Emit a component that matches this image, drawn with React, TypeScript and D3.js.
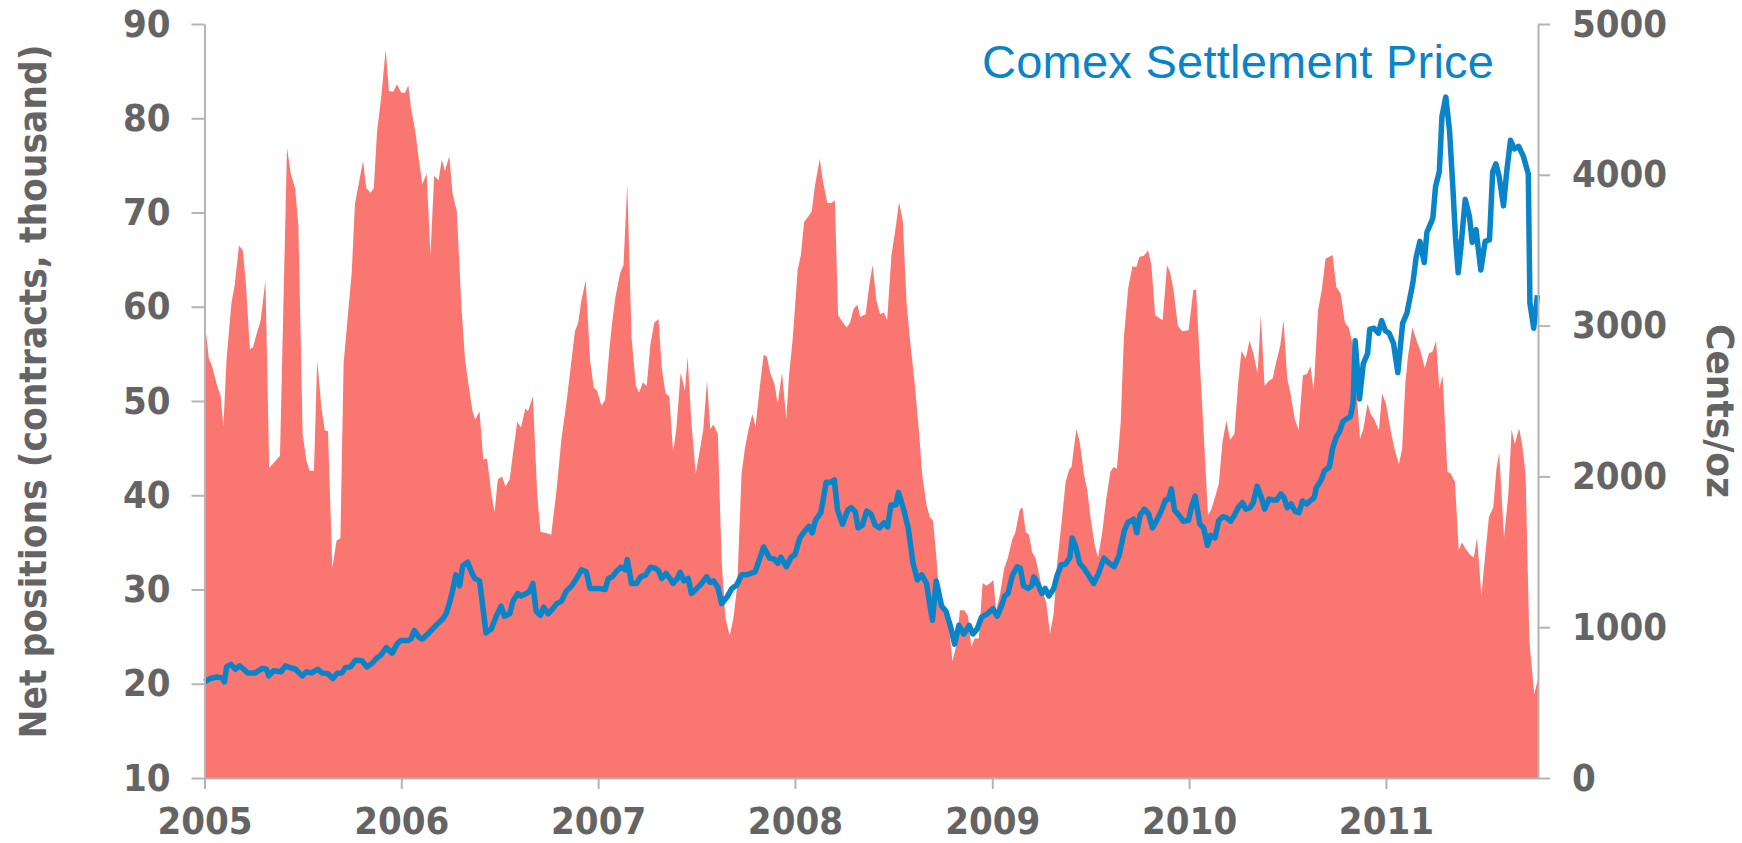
import { useEffect, useRef } from 'react'
import * as d3 from 'd3'

type Pt = [string, number]

// Net long positions, thousand contracts (left axis)
const netPositions: Pt[] = [
  ['2005-01-01', 58.6], ['2005-01-09', 54.5], ['2005-01-15', 53.7], ['2005-01-23', 51.9], ['2005-01-31', 50.5],
  ['2005-02-05', 47.3], ['2005-02-11', 54.5], ['2005-02-20', 60.4], ['2005-02-26', 62.3], ['2005-03-06', 66.5],
  ['2005-03-13', 66], ['2005-03-19', 62.3], ['2005-03-26', 55.5], ['2005-04-01', 55.7], ['2005-04-08', 57.2],
  ['2005-04-15', 58.5], ['2005-04-24', 62.8], ['2005-05-01', 42.9], ['2005-05-21', 44.2], ['2005-06-03', 76.9],
  ['2005-06-10', 74.1], ['2005-06-18', 72.6], ['2005-06-24', 68.7], ['2005-07-02', 46.5], ['2005-07-09', 43.7],
  ['2005-07-15', 42.6], ['2005-07-23', 42.6], ['2005-07-29', 54.3], ['2005-08-06', 49.2], ['2005-08-12', 46.9],
  ['2005-08-18', 46.8], ['2005-08-26', 32.3], ['2005-09-03', 35.2], ['2005-09-10', 35.4], ['2005-09-16', 54],
  ['2005-09-26', 60.4], ['2005-10-01', 63.6], ['2005-10-07', 70.9], ['2005-10-22', 75.5], ['2005-10-28', 72.6],
  ['2005-11-05', 72.1], ['2005-11-11', 72.6], ['2005-11-17', 78.6], ['2005-11-25', 82.4], ['2005-12-03', 87.3],
  ['2005-12-09', 82.9], ['2005-12-17', 82.8], ['2005-12-24', 83.6], ['2006-01-01', 82.7], ['2006-01-08', 82.7],
  ['2006-01-14', 83.5], ['2006-01-19', 81.1], ['2006-01-27', 78.6], ['2006-02-03', 75.4], ['2006-02-09', 73],
  ['2006-02-17', 74.1], ['2006-02-24', 65.5], ['2006-03-03', 73.9], ['2006-03-11', 73.4], ['2006-03-17', 75.6],
  ['2006-03-23', 74.4], ['2006-03-31', 76], ['2006-04-06', 72], ['2006-04-14', 70.1], ['2006-04-22', 60.4],
  ['2006-04-29', 54.5], ['2006-05-06', 51.6], ['2006-05-13', 48.9], ['2006-05-18', 48], ['2006-05-26', 48.9],
  ['2006-06-02', 43.8], ['2006-06-09', 43.9], ['2006-06-17', 40.1], ['2006-06-23', 38.2], ['2006-06-29', 41.7],
  ['2006-07-07', 42], ['2006-07-13', 40.9], ['2006-07-21', 41.7], ['2006-07-27', 44.4], ['2006-08-04', 47.8],
  ['2006-08-11', 47.2], ['2006-08-19', 49.2], ['2006-08-24', 48.9], ['2006-09-02', 50.5], ['2006-09-10', 40.1],
  ['2006-09-16', 36.1], ['2006-09-27', 36], ['2006-10-06', 35.8], ['2006-10-16', 40.6], ['2006-10-25', 46],
  ['2006-11-03', 49.7], ['2006-11-13', 54.5], ['2006-11-19', 57.4], ['2006-11-25', 58.3], ['2006-12-01', 60.7],
  ['2006-12-09', 62.8], ['2006-12-17', 54.3], ['2006-12-24', 51.4], ['2006-12-30', 51.1], ['2007-01-07', 49.5],
  ['2007-01-14', 50.1], ['2007-01-22', 55.6], ['2007-01-27', 58.3], ['2007-02-02', 61], ['2007-02-11', 63.6],
  ['2007-02-17', 64.4], ['2007-02-24', 73], ['2007-03-04', 56.7], ['2007-03-12', 51.6], ['2007-03-18', 50.9],
  ['2007-03-25', 52], ['2007-04-01', 51.6], ['2007-04-08', 56], ['2007-04-15', 58.3], ['2007-04-23', 58.7],
  ['2007-04-29', 53.5], ['2007-05-06', 50.8], ['2007-05-13', 50.5], ['2007-05-20', 44.6], ['2007-05-26', 47],
  ['2007-06-03', 53], ['2007-06-11', 51.1], ['2007-06-16', 54.7], ['2007-06-23', 47.6], ['2007-07-01', 42.3],
  ['2007-07-09', 44.9], ['2007-07-15', 47], ['2007-07-22', 52.2], ['2007-07-28', 47], ['2007-08-03', 47.5],
  ['2007-08-11', 46.5], ['2007-08-18', 33.1], ['2007-08-25', 27], ['2007-09-02', 25.1], ['2007-09-09', 27],
  ['2007-09-16', 30.4], ['2007-09-24', 42.3], ['2007-09-30', 44.9], ['2007-10-07', 47], ['2007-10-14', 48.6],
  ['2007-10-20', 47.3], ['2007-10-27', 51.1], ['2007-11-04', 54.9], ['2007-11-10', 54.7], ['2007-11-16', 53],
  ['2007-11-24', 51.8], ['2007-11-30', 49.7], ['2007-12-08', 53], ['2007-12-16', 48.1], ['2007-12-21', 52.7],
  ['2007-12-28', 56.7], ['2008-01-06', 63.9], ['2008-01-12', 65.5], ['2008-01-18', 69], ['2008-01-26', 69.6],
  ['2008-02-01', 70.1], ['2008-02-07', 72.8], ['2008-02-16', 75.7], ['2008-02-22', 73.3], ['2008-03-01', 71],
  ['2008-03-09', 71], ['2008-03-15', 71.3], ['2008-03-21', 59.1], ['2008-03-29', 58.4], ['2008-04-06', 57.8],
  ['2008-04-12', 58.3], ['2008-04-19', 59.8], ['2008-04-26', 60.2], ['2008-05-01', 58.9], ['2008-05-11', 59.2],
  ['2008-05-18', 62.3], ['2008-05-24', 64.4], ['2008-05-31', 60.7], ['2008-06-07', 59.2], ['2008-06-14', 59.4],
  ['2008-06-20', 58.6], ['2008-06-28', 65.5], ['2008-07-06', 68.5], ['2008-07-12', 71.1], ['2008-07-19', 69.1],
  ['2008-07-26', 60.4], ['2008-08-02', 56.1], ['2008-08-10', 51.9], ['2008-08-18', 46.8], ['2008-08-24', 42.2],
  ['2008-09-01', 39], ['2008-09-07', 37.7], ['2008-09-13', 37.3], ['2008-09-19', 33.7], ['2008-09-25', 29.1],
  ['2008-10-03', 28.3], ['2008-10-11', 27], ['2008-10-19', 22.4], ['2008-10-26', 24], ['2008-11-02', 27.8],
  ['2008-11-10', 27.8], ['2008-11-17', 27.2], ['2008-11-23', 23.9], ['2008-11-29', 24.8], ['2008-12-07', 24.8],
  ['2008-12-14', 30.7], ['2008-12-21', 30.4], ['2008-12-28', 30.7], ['2009-01-03', 31], ['2009-01-08', 27.8],
  ['2009-01-15', 29.4], ['2009-01-23', 32.2], ['2009-01-30', 33.4], ['2009-02-07', 35.3], ['2009-02-13', 36.1],
  ['2009-02-21', 38.5], ['2009-02-26', 38.7], ['2009-03-04', 36.1], ['2009-03-10', 35.8], ['2009-03-16', 33.9],
  ['2009-03-22', 33.4], ['2009-03-29', 31.5], ['2009-04-04', 29.9], ['2009-04-11', 28.6], ['2009-04-18', 25.3],
  ['2009-04-25', 27.5], ['2009-05-01', 32.6], ['2009-05-08', 36.3], ['2009-05-17', 41.4], ['2009-05-24', 42.8],
  ['2009-05-28', 43], ['2009-06-01', 44.9], ['2009-06-06', 47], ['2009-06-12', 45.7], ['2009-06-20', 42.2],
  ['2009-06-26', 40.6], ['2009-07-02', 37.7], ['2009-07-10', 34.7], ['2009-07-16', 33.4], ['2009-07-24', 36.1],
  ['2009-07-31', 39.5], ['2009-08-08', 42.5], ['2009-08-14', 43], ['2009-08-20', 42.8], ['2009-08-27', 47.6],
  ['2009-09-02', 56.7], ['2009-09-10', 62], ['2009-09-18', 64.3], ['2009-09-25', 64.2], ['2009-10-01', 65.3],
  ['2009-10-09', 65.4], ['2009-10-17', 66], ['2009-10-23', 64.4], ['2009-10-30', 59.1], ['2009-11-09', 58.7],
  ['2009-11-13', 58.6], ['2009-11-21', 64.4], ['2009-11-27', 63.6], ['2009-12-03', 61.8], ['2009-12-11', 58],
  ['2009-12-19', 57.4], ['2009-12-31', 57.5], ['2010-01-09', 61.8], ['2010-01-14', 61.8], ['2010-01-22', 52.9],
  ['2010-01-30', 44.4], ['2010-02-05', 37.9], ['2010-02-11', 38.5], ['2010-02-18', 39.8], ['2010-02-25', 41.2],
  ['2010-03-04', 45.7], ['2010-03-11', 47.9], ['2010-03-18', 45.9], ['2010-03-26', 46.5], ['2010-04-02', 51.9],
  ['2010-04-08', 55.3], ['2010-04-16', 54.5], ['2010-04-23', 56.4], ['2010-04-30', 55.1], ['2010-05-08', 52.9],
  ['2010-05-14', 59.1], ['2010-05-21', 51.6], ['2010-05-28', 52.1], ['2010-06-05', 52.4], ['2010-06-11', 54],
  ['2010-06-19', 55.9], ['2010-06-25', 58.6], ['2010-07-02', 52.4], ['2010-07-08', 50.8], ['2010-07-16', 48.1],
  ['2010-07-23', 46.9], ['2010-07-31', 52.7], ['2010-08-08', 52.9], ['2010-08-14', 53.7], ['2010-08-20', 51.1],
  ['2010-08-28', 59.6], ['2010-09-04', 61.8], ['2010-09-11', 65.1], ['2010-09-24', 65.5], ['2010-10-01', 62.1],
  ['2010-10-09', 61.4], ['2010-10-17', 58.3], ['2010-10-24', 57.8], ['2010-10-31', 56.1], ['2010-11-06', 52.1],
  ['2010-11-14', 46], ['2010-11-20', 47], ['2010-11-28', 49.7], ['2010-12-04', 48.6], ['2010-12-10', 48.1],
  ['2010-12-19', 46.9], ['2010-12-25', 50.8], ['2011-01-01', 49.7], ['2011-01-11', 46.5], ['2011-01-17', 44.9],
  ['2011-01-25', 43.3], ['2011-01-31', 44.9], ['2011-02-06', 51.9], ['2011-02-11', 54.8], ['2011-02-19', 57.8],
  ['2011-02-27', 56.4], ['2011-03-06', 55.3], ['2011-03-14', 53.5], ['2011-03-22', 55.1], ['2011-03-28', 55.2],
  ['2011-04-04', 56.4], ['2011-04-10', 51.3], ['2011-04-16', 52.7], ['2011-04-25', 42.5], ['2011-05-01', 42.3],
  ['2011-05-09', 41.4], ['2011-05-16', 34.2], ['2011-05-22', 35], ['2011-05-29', 34.3], ['2011-06-06', 33.7],
  ['2011-06-13', 33.4], ['2011-06-19', 35.5], ['2011-06-27', 29.4], ['2011-07-05', 34.2], ['2011-07-11', 37.7],
  ['2011-07-19', 38.7], ['2011-07-25', 42.8], ['2011-07-30', 44.5], ['2011-08-08', 35.5], ['2011-08-16', 40.1],
  ['2011-08-22', 47], ['2011-08-28', 45.4], ['2011-09-05', 47.1], ['2011-09-11', 45.2], ['2011-09-17', 42.2],
  ['2011-09-24', 24.5], ['2011-10-03', 18.9], ['2011-10-10', 20.5],
]

// Comex settlement price, cents/oz (right axis)
const comexPrice: Pt[] = [
  ['2005-01-01', 637], ['2005-01-12', 660], ['2005-01-24', 670], ['2005-02-03', 664], ['2005-02-07', 637],
  ['2005-02-11', 737], ['2005-02-19', 754], ['2005-02-27', 721], ['2005-03-07', 744], ['2005-03-15', 721],
  ['2005-03-22', 697], ['2005-04-05', 697], ['2005-04-18', 727], ['2005-04-26', 721], ['2005-04-30', 677],
  ['2005-05-09', 711], ['2005-05-23', 704], ['2005-05-31', 744], ['2005-06-09', 731], ['2005-06-19', 721],
  ['2005-07-01', 677], ['2005-07-09', 704], ['2005-07-19', 697], ['2005-07-30', 721], ['2005-08-07', 697],
  ['2005-08-18', 691], ['2005-08-27', 660], ['2005-09-04', 694], ['2005-09-13', 697], ['2005-09-19', 731],
  ['2005-09-29', 737], ['2005-10-08', 781], ['2005-10-20', 778], ['2005-10-29', 737], ['2005-11-08', 761],
  ['2005-11-16', 794], ['2005-11-24', 815], ['2005-12-04', 865], ['2005-12-15', 828], ['2005-12-24', 888],
  ['2005-12-31', 912], ['2006-01-14', 912], ['2006-01-19', 922], ['2006-01-25', 979], ['2006-02-03', 932],
  ['2006-02-09', 922], ['2006-02-19', 955], ['2006-02-28', 989], ['2006-03-09', 1022], ['2006-03-19', 1056],
  ['2006-03-25', 1089], ['2006-03-31', 1156], ['2006-04-06', 1240], ['2006-04-12', 1347], ['2006-04-19', 1274],
  ['2006-04-25', 1408], ['2006-05-04', 1431], ['2006-05-10', 1374], ['2006-05-17', 1324], ['2006-05-26', 1307],
  ['2006-06-01', 1140], ['2006-06-07', 962], ['2006-06-17', 989], ['2006-06-26', 1073], ['2006-07-05', 1140],
  ['2006-07-11', 1073], ['2006-07-21', 1089], ['2006-07-27', 1173], ['2006-08-05', 1223], ['2006-08-11', 1207],
  ['2006-08-21', 1223], ['2006-08-27', 1240], ['2006-09-02', 1290], ['2006-09-08', 1106], ['2006-09-16', 1079],
  ['2006-09-22', 1133], ['2006-09-30', 1089], ['2006-10-09', 1123], ['2006-10-16', 1156], ['2006-10-25', 1173],
  ['2006-11-03', 1240], ['2006-11-13', 1274], ['2006-11-22', 1324], ['2006-12-01', 1381], ['2006-12-10', 1367],
  ['2006-12-17', 1257], ['2006-12-26', 1257], ['2007-01-04', 1257], ['2007-01-14', 1250], ['2007-01-20', 1324],
  ['2007-01-27', 1334], ['2007-02-05', 1374], ['2007-02-12', 1398], ['2007-02-20', 1381], ['2007-02-24', 1448],
  ['2007-03-04', 1290], ['2007-03-13', 1290], ['2007-03-21', 1334], ['2007-03-30', 1347], ['2007-04-08', 1398],
  ['2007-04-17', 1391], ['2007-04-23', 1374], ['2007-04-29', 1324], ['2007-05-07', 1357], ['2007-05-14', 1324],
  ['2007-05-20', 1290], ['2007-05-28', 1324], ['2007-06-02', 1364], ['2007-06-09', 1307], ['2007-06-17', 1324],
  ['2007-06-23', 1223], ['2007-07-03', 1257], ['2007-07-12', 1290], ['2007-07-21', 1334], ['2007-07-28', 1297],
  ['2007-08-03', 1307], ['2007-08-11', 1264], ['2007-08-18', 1156], ['2007-08-28', 1200], ['2007-09-06', 1257],
  ['2007-09-15', 1280], ['2007-09-24', 1347], ['2007-10-03', 1347], ['2007-10-19', 1367], ['2007-10-28', 1458],
  ['2007-11-04', 1532], ['2007-11-15', 1458], ['2007-11-24', 1451], ['2007-11-30', 1424], ['2007-12-06', 1465],
  ['2007-12-16', 1401], ['2007-12-25', 1465], ['2008-01-01', 1481], ['2008-01-10', 1592], ['2008-01-18', 1632],
  ['2008-01-27', 1669], ['2008-02-02', 1626], ['2008-02-08', 1709], ['2008-02-18', 1760], ['2008-02-28', 1961],
  ['2008-03-08', 1961], ['2008-03-14', 1977], ['2008-03-20', 1776], ['2008-03-29', 1683], ['2008-04-08', 1776],
  ['2008-04-14', 1793], ['2008-04-22', 1766], ['2008-04-27', 1659], ['2008-05-05', 1676], ['2008-05-13', 1770],
  ['2008-05-21', 1750], ['2008-05-29', 1676], ['2008-06-06', 1659], ['2008-06-14', 1693], ['2008-06-21', 1666],
  ['2008-06-27', 1810], ['2008-07-06', 1810], ['2008-07-11', 1894], ['2008-07-21', 1776], ['2008-07-29', 1659],
  ['2008-08-07', 1425], ['2008-08-15', 1314], ['2008-08-23', 1347], ['2008-09-01', 1290], ['2008-09-06', 1173],
  ['2008-09-12', 1046], ['2008-09-19', 1307], ['2008-09-29', 1140], ['2008-10-07', 1106], ['2008-10-16', 999],
  ['2008-10-23', 888], ['2008-10-31', 1012], ['2008-11-09', 955], ['2008-11-19', 1012], ['2008-11-26', 955],
  ['2008-12-04', 989], ['2008-12-12', 1066], ['2008-12-23', 1089], ['2009-01-02', 1123], ['2009-01-10', 1073],
  ['2009-01-18', 1140], ['2009-01-24', 1207], ['2009-01-30', 1223], ['2009-02-07', 1341], ['2009-02-16', 1401],
  ['2009-02-22', 1391], ['2009-02-28', 1274], ['2009-03-08', 1257], ['2009-03-15', 1274], ['2009-03-19', 1334],
  ['2009-03-28', 1274], ['2009-04-03', 1223], ['2009-04-09', 1257], ['2009-04-16', 1207], ['2009-04-25', 1257],
  ['2009-05-01', 1341], ['2009-05-09', 1414], ['2009-05-17', 1418], ['2009-05-25', 1465], ['2009-05-29', 1592],
  ['2009-06-04', 1542], ['2009-06-12', 1424], ['2009-06-20', 1391], ['2009-06-29', 1341], ['2009-07-08', 1290],
  ['2009-07-17', 1357], ['2009-07-27', 1458], ['2009-08-06', 1424], ['2009-08-15', 1401], ['2009-08-24', 1475],
  ['2009-09-03', 1642], ['2009-09-09', 1693], ['2009-09-20', 1716], ['2009-09-26', 1626], ['2009-10-02', 1743],
  ['2009-10-10', 1783], ['2009-10-18', 1750], ['2009-10-25', 1659], ['2009-11-02', 1709], ['2009-11-11', 1776],
  ['2009-11-18', 1843], ['2009-11-24', 1850], ['2009-11-29', 1917], ['2009-12-05', 1776], ['2009-12-13', 1743],
  ['2009-12-21', 1703], ['2009-12-31', 1709], ['2010-01-05', 1793], ['2010-01-12', 1870], ['2010-01-21', 1683],
  ['2010-01-28', 1659], ['2010-02-04', 1542], ['2010-02-10', 1609], ['2010-02-18', 1592], ['2010-02-25', 1709],
  ['2010-03-05', 1733], ['2010-03-11', 1726], ['2010-03-19', 1703], ['2010-03-26', 1743], ['2010-04-02', 1793],
  ['2010-04-10', 1827], ['2010-04-16', 1783], ['2010-04-24', 1793], ['2010-04-30', 1827], ['2010-05-07', 1934],
  ['2010-05-15', 1860], ['2010-05-21', 1783], ['2010-05-29', 1850], ['2010-06-06', 1843], ['2010-06-12', 1843],
  ['2010-06-20', 1884], ['2010-06-26', 1860], ['2010-07-02', 1793], ['2010-07-09', 1817], ['2010-07-17', 1766],
  ['2010-07-24', 1760], ['2010-07-30', 1837], ['2010-08-07', 1817], ['2010-08-15', 1843], ['2010-08-21', 1860],
  ['2010-08-25', 1927], ['2010-09-03', 1977], ['2010-09-09', 2038], ['2010-09-18', 2061], ['2010-09-24', 2185],
  ['2010-10-01', 2262], ['2010-10-07', 2296], ['2010-10-13', 2363], ['2010-10-19', 2380], ['2010-10-27', 2396],
  ['2010-11-01', 2480], ['2010-11-05', 2899], ['2010-11-13', 2514], ['2010-11-20', 2748], ['2010-11-28', 2815],
  ['2010-12-02', 2976], ['2010-12-10', 2983], ['2010-12-18', 2949], ['2010-12-24', 3033], ['2010-12-31', 2966],
  ['2011-01-07', 2949], ['2011-01-15', 2882], ['2011-01-23', 2688], ['2011-02-01', 3016], ['2011-02-09', 3083],
  ['2011-02-20', 3284], ['2011-02-26', 3452], ['2011-03-05', 3559], ['2011-03-13', 3418], ['2011-03-18', 3619],
  ['2011-03-26', 3686], ['2011-03-29', 3713], ['2011-04-03', 3921], ['2011-04-10', 4022], ['2011-04-15', 4390],
  ['2011-04-22', 4515], ['2011-04-29', 4290], ['2011-05-05', 3921], ['2011-05-10', 3586], ['2011-05-15', 3351],
  ['2011-05-20', 3519], ['2011-05-28', 3837], ['2011-06-05', 3720], ['2011-06-10', 3552], ['2011-06-17', 3636],
  ['2011-06-26', 3368], ['2011-07-04', 3559], ['2011-07-12', 3569], ['2011-07-18', 4022], ['2011-07-24', 4072],
  ['2011-07-30', 3988], ['2011-08-07', 3794], ['2011-08-13', 4022], ['2011-08-20', 4229], ['2011-08-27', 4172],
  ['2011-09-04', 4189], ['2011-09-13', 4122], ['2011-09-22', 4005], ['2011-09-25', 3150], ['2011-10-02', 2983],
  ['2011-10-09', 3201],
]

const yearTicks = [2005, 2006, 2007, 2008, 2009, 2010, 2011]
const leftTicks = [10, 20, 30, 40, 50, 60, 70, 80, 90]
const rightTicks = [0, 1000, 2000, 3000, 4000, 5000]

const W = 1742
const H = 843
const AREA = '#FA7670'
const BLUE = '#0A84C8'
const AXIS = '#B4B4B4'
const LABEL = '#646464'
const BOLD_FONT = "'DejaVu Sans Condensed', 'DejaVu Sans', sans-serif"

export default function App() {
  const svgRef = useRef<SVGSVGElement>(null)

  useEffect(() => {
    if (!svgRef.current) return
    const parse = d3.timeParse('%Y-%m-%d')
    const pos = netPositions.map(([d, v]) => ({ date: parse(d)!, v }))
    const px = comexPrice.map(([d, v]) => ({ date: parse(d)!, v }))

    const margin = { left: 204.5, right: W - 1538, top: 24, bottom: H - 778 }
    const x = d3.scaleTime()
      .domain([new Date(2005, 0, 1), new Date(2011, 9, 10)])
      .range([margin.left, W - margin.right])
    const yL = d3.scaleLinear().domain([10, 90]).range([H - margin.bottom, margin.top])
    const yR = d3.scaleLinear().domain([0, 5000]).range([H - margin.bottom, margin.top])

    const svg = d3.select(svgRef.current)
    svg.selectAll('*').remove()

    // Net positions area
    svg.append('path')
      .datum(pos)
      .attr('fill', AREA)
      .attr('d', d3.area<{ date: Date; v: number }>()
        .x(d => x(d.date))
        .y0(yL(10))
        .y1(d => yL(d.v)))

    // Price line
    svg.append('path')
      .datum(px)
      .attr('fill', 'none')
      .attr('stroke', BLUE)
      .attr('stroke-width', 5.5)
      .attr('stroke-linejoin', 'round')
      .attr('d', d3.line<{ date: Date; v: number }>()
        .x(d => x(d.date))
        .y(d => yR(d.v)))

    const styleAxis = (g: d3.Selection<SVGGElement, unknown, null, undefined>) => {
      g.select('.domain').attr('stroke', AXIS).attr('stroke-width', 2)
      g.selectAll('.tick line').attr('stroke', AXIS).attr('stroke-width', 2)
      g.selectAll('.tick text')
        .attr('fill', LABEL)
        .attr('font-family', BOLD_FONT)
        .attr('font-stretch', 'condensed')
        .attr('font-weight', 'bold')
        .attr('font-size', 38)
    }

    // Left axis
    svg.append('g')
      .attr('transform', `translate(${margin.left},0)`)
      .call(d3.axisLeft(yL).tickValues(leftTicks).tickSize(13).tickPadding(21).tickSizeOuter(0))
      .call(styleAxis)

    // Right axis
    svg.append('g')
      .attr('transform', `translate(${W - margin.right},0)`)
      .call(d3.axisRight(yR).tickValues(rightTicks).tickFormat(d3.format('d')).tickSize(12).tickPadding(22).tickSizeOuter(0))
      .call(styleAxis)

    // Bottom axis
    svg.append('g')
      .attr('transform', `translate(0,${H - margin.bottom})`)
      .call(d3.axisBottom(x)
        .tickValues(yearTicks.map(y => new Date(y, 0, 1)))
        .tickFormat(d => d3.timeFormat('%Y')(d as Date))
        .tickSize(11).tickPadding(18).tickSizeOuter(0))
      .call(styleAxis)

    // Axis titles
    svg.append('text')
      .attr('transform', `translate(33,${(44 + 739) / 2}) rotate(-90)`)
      .attr('text-anchor', 'middle')
      .attr('dominant-baseline', 'central')
      .attr('font-family', BOLD_FONT)
      .attr('font-stretch', 'condensed')
      .attr('font-weight', 'bold')
      .attr('font-size', 38)
      .attr('fill', LABEL)
      .attr('textLength', 694)
      .attr('lengthAdjust', 'spacingAndGlyphs')
      .text('Net positions (contracts, thousand)')

    svg.append('text')
      .attr('transform', `translate(1720,411) rotate(90)`)
      .attr('text-anchor', 'middle')
      .attr('dominant-baseline', 'central')
      .attr('font-family', BOLD_FONT)
      .attr('font-stretch', 'condensed')
      .attr('font-weight', 'bold')
      .attr('font-size', 38)
      .attr('fill', LABEL)
      .attr('textLength', 174)
      .attr('lengthAdjust', 'spacingAndGlyphs')
      .text('Cents/oz')

    svg.append('text')
      .attr('x', 982)
      .attr('y', 78)
      .attr('font-family', "'Liberation Sans', Arial, sans-serif")
      .attr('font-size', 47)
      .attr('fill', BLUE)
      .attr('textLength', 512)
      .text('Comex Settlement Price')
  }, [])

  return (
    <div style={{ position: 'absolute', left: 0, top: 0 }}>
      <svg ref={svgRef} width={W} height={H} style={{ display: 'block', background: '#fff' }} />
    </div>
  )
}
